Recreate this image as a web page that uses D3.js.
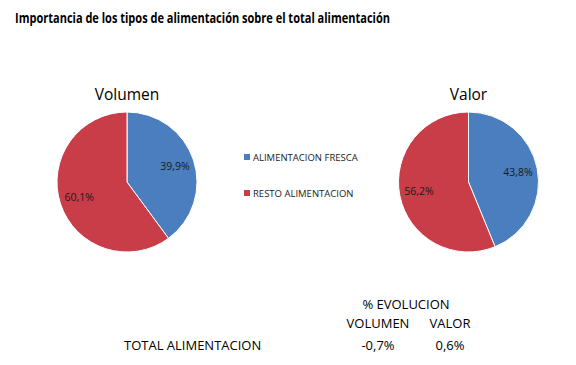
<!DOCTYPE html>
<html><head><meta charset="utf-8">
<script src="https://cdn.jsdelivr.net/npm/d3@7"></script>
<style>body{margin:0;background:#fff}svg{display:block}text{font-family:"Open Sans","DejaVu Sans",sans-serif}</style>
</head><body><svg id="c" width="576" height="365"></svg>
<script>
const title = "Importancia de los tipos de alimentación sobre el total alimentación";
const categories = ["ALIMENTACION FRESCA", "RESTO ALIMENTACION"];
const pieTitles = ["Volumen", "Valor"];
const volumenValues = [39.9, 60.1];
const valorValues = [43.8, 56.2];
const colors = ["#4a7ebf", "#c93d48"];
const tableHeader = "% EVOLUCION";
const tableCols = ["VOLUMEN", "VALOR"];
const tableRow = "TOTAL ALIMENTACION";
const tableValues = ["-0,7%", "0,6%"];

const svg = d3.select("#c");
svg.append("text").attr("x", 15).attr("y", 23).attr("font-size", 14).attr("font-weight", "bold")
  .attr("fill", "#000").attr("textLength", 375).attr("lengthAdjust", "spacingAndGlyphs").text(title);

const fmt = v => d3.format(".1f")(v).replace(".", ",") + "%";
const color = d3.scaleOrdinal().domain(categories).range(colors);
const pie = d3.pie().sort(null).value(d => d.v);
const r = 70;
const arc = d3.arc().innerRadius(0).outerRadius(r);
const labelArc = d3.arc().innerRadius(r * 0.72).outerRadius(r * 0.72);

const pies = [{name: pieTitles[0], vals: volumenValues, cx: 127, cy: 182},
              {name: pieTitles[1], vals: valorValues, cx: 468.5, cy: 182}];
pies.forEach(p => {
  const g = svg.append("g").attr("transform", `translate(${p.cx},${p.cy})`);
  g.append("text").attr("y", -82).attr("text-anchor", "middle").attr("font-size", 15.5)
    .attr("fill", "#000").text(p.name);
  const data = pie(categories.map((c, i) => ({c, v: p.vals[i]})));
  g.selectAll("path").data(data).join("path").attr("d", arc)
    .attr("fill", d => color(d.data.c)).attr("stroke", "#fff").attr("stroke-width", 1);
  g.selectAll("text.l").data(data).join("text").attr("class", "l")
    .attr("transform", d => `translate(${labelArc.centroid(d)})`)
    .attr("text-anchor", "middle").attr("dy", "0.35em").attr("font-size", 10.5)
    .attr("fill", "#1a1a1a").text(d => fmt(d.data.v));
});

const leg = svg.append("g").attr("transform", "translate(244,0)");
categories.forEach((c, i) => {
  const y = 158 + i * 36;
  leg.append("rect").attr("x", 0).attr("y", y - 4).attr("width", 6).attr("height", 6).attr("fill", color(c));
  leg.append("text").attr("x", 9).attr("y", y).attr("dy", "0.35em").attr("font-size", 9.5)
    .attr("fill", "#222").text(c);
});

svg.append("text").attr("x", 406).attr("y", 309).attr("text-anchor", "middle").attr("font-size", 13).text(tableHeader);
const colX = [378, 450];
tableCols.forEach((t, i) => svg.append("text").attr("x", colX[i]).attr("y", 328).attr("text-anchor", "middle").attr("font-size", 13).text(t));
svg.append("text").attr("x", 124).attr("y", 350).attr("font-size", 13).text(tableRow);
tableValues.forEach((t, i) => svg.append("text").attr("x", colX[i]).attr("y", 350).attr("text-anchor", "middle").attr("font-size", 13).text(t));
</script></body></html>
